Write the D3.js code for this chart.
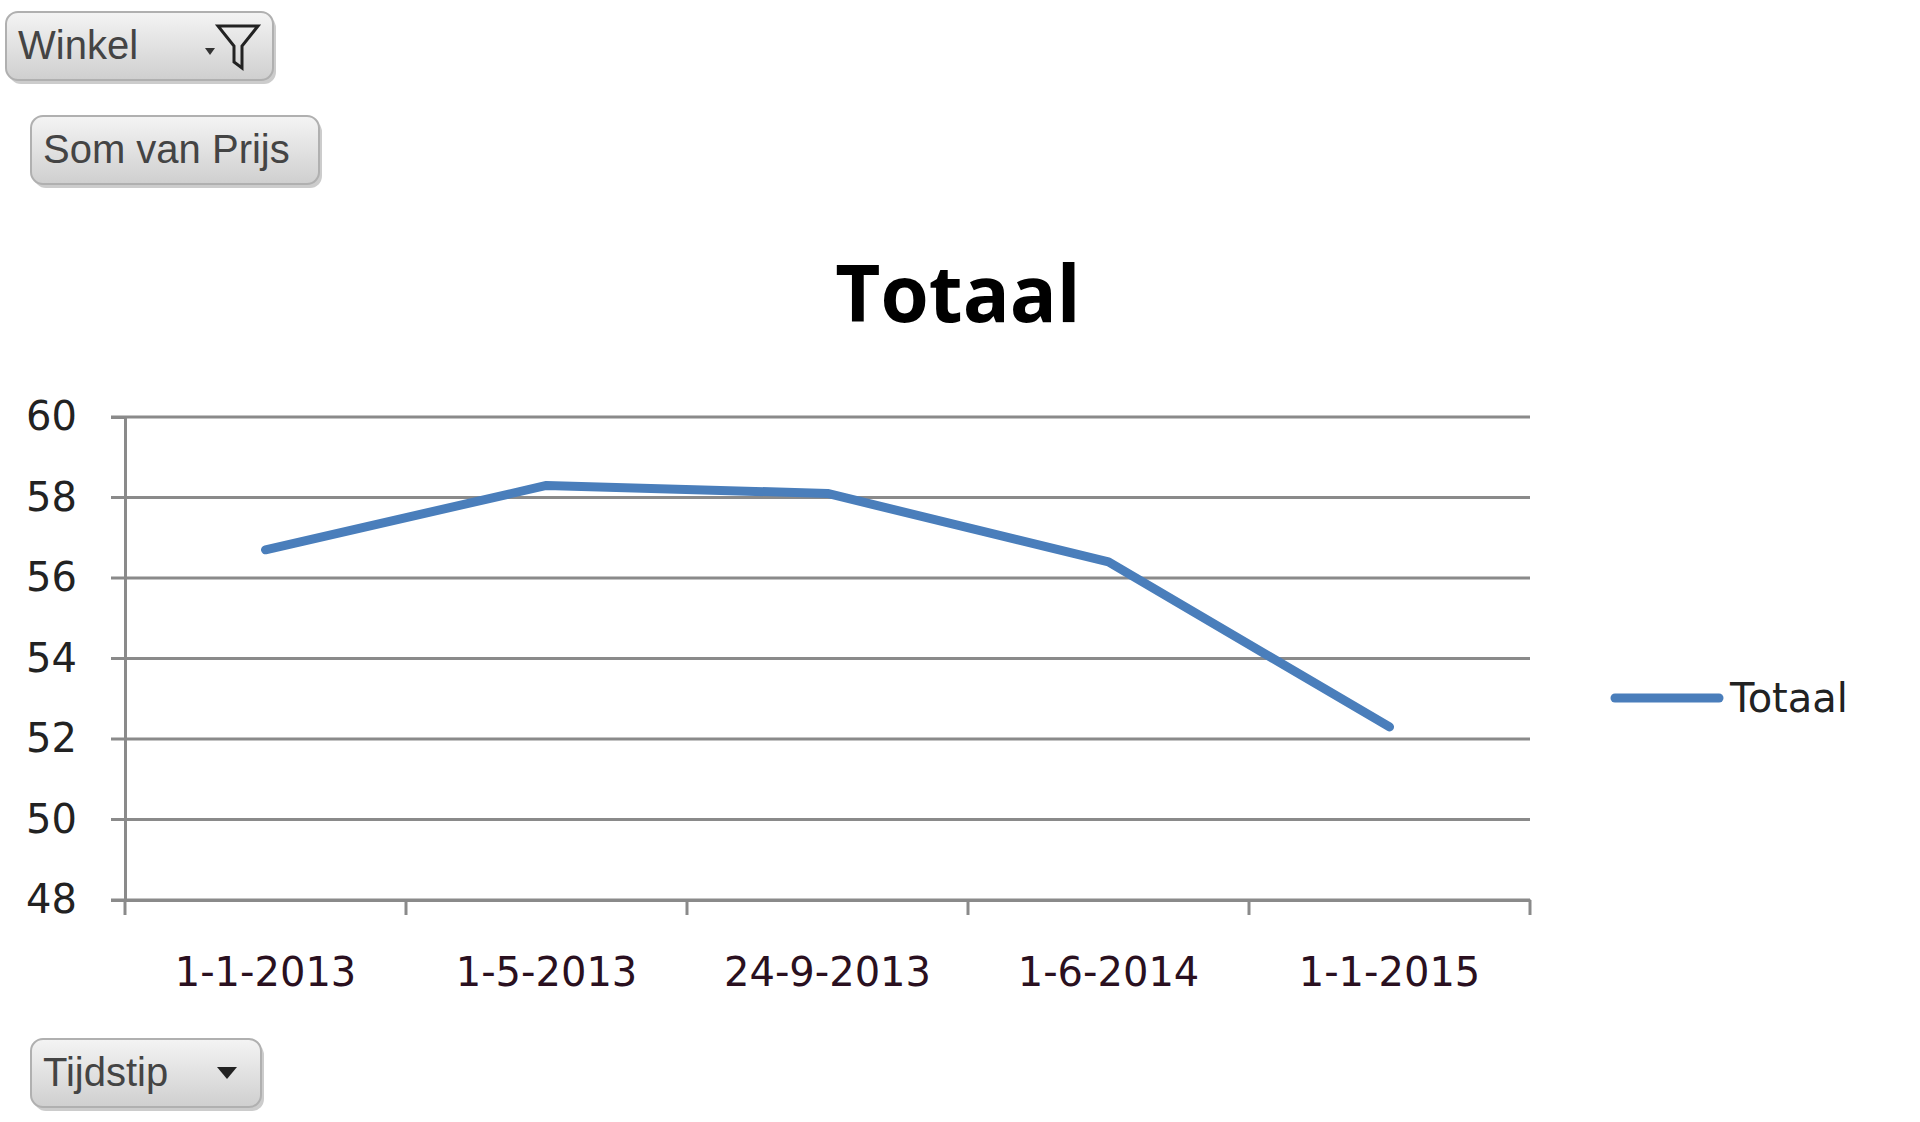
<!DOCTYPE html><html><head><meta charset="utf-8"><script src="https://d3js.org/d3.v7.min.js"></script>
<style>body{margin:0;background:#fff}</style></head><body><svg id="c" width="1920" height="1122"></svg>
<script>
const categories=["1-1-2013","1-5-2013","24-9-2013","1-6-2014","1-1-2015"];
const values=[56.7,58.3,58.1,56.4,52.3];
const yTicks=[48,50,52,54,56,58,60];
const svg=d3.select("#c");
const defs=svg.append("defs");
const g1=defs.append("linearGradient").attr("id","btn").attr("x1",0).attr("y1",0).attr("x2",0).attr("y2",1);
g1.append("stop").attr("offset","0").attr("stop-color","#f4f4f4");
g1.append("stop").attr("offset","1").attr("stop-color","#cfcfcf");
function button(x,y,w,h,label,icon){
  const g=svg.append("g");
  g.append("rect").attr("x",x+3).attr("y",y+4).attr("width",w).attr("height",h).attr("rx",12).attr("fill","#ccc");
  g.append("rect").attr("x",x).attr("y",y).attr("width",w).attr("height",h).attr("rx",12).attr("fill","url(#btn)").attr("stroke","#b0b0b0").attr("stroke-width",2);
  g.append("text").attr("x",x+12).attr("y",y+h/2+13).attr("font-family","Liberation Sans Narrow, Liberation Sans, sans-serif").attr("font-size",40).attr("fill","#444").text(label);
  if(icon==="filter"){
    g.append("path").attr("d",`M${x+w-68},${y+h/2+2} l10,0 l-5,7 z`).attr("fill","#333");
    g.append("path").attr("d",`M${x+w-55},${y+14} l40,0 l-16,20 l0,22 l-8,-6 l0,-16 z`).attr("fill","none").attr("stroke","#222").attr("stroke-width",3);
  } else if(icon==="drop"){
    g.append("path").attr("d",`M${x+w-44},${y+h/2-6} l20,0 l-10,12 z`).attr("fill","#222");
  }
}
button(6,12,267,68,"Winkel","filter");
button(31,116,288,68,"Som van Prijs");
button(31,1039,230,68,"Tijdstip","drop");

const L=125,R=1530,T=417,B=900;
const x=d3.scaleBand().domain(categories).range([L,R]);
const y=d3.scaleLinear().domain([48,60]).range([B,T]);
svg.append("text").attr("x",958).attr("y",322).attr("text-anchor","middle").attr("font-family","Open Sans, sans-serif").attr("font-weight","bold").attr("font-size",78).attr("fill","#000").text("Totaal");
svg.append("g").selectAll("line").data(yTicks).join("line").attr("x1",L-14).attr("x2",R).attr("y1",d=>y(d)).attr("y2",d=>y(d)).attr("stroke","#8a8a8a").attr("stroke-width",3);
const ya=svg.append("g").attr("transform",`translate(${L},0)`).call(d3.axisLeft(y).tickValues(yTicks).tickSize(14).tickPadding(34));
ya.select(".domain").attr("stroke","#8a8a8a").attr("stroke-width",3);
ya.selectAll(".tick line").remove();
ya.selectAll("text").attr("font-family","DejaVu Sans, sans-serif").attr("font-size",40).attr("fill","#222");
const xa=svg.append("g").attr("transform",`translate(0,${B})`).call(d3.axisBottom(x).tickSize(0).tickPadding(58));
xa.select(".domain").attr("stroke","#8a8a8a").attr("stroke-width",3);
xa.selectAll("text").attr("font-family","DejaVu Sans, sans-serif").attr("font-size",40).attr("fill","#2a1020");
const edges=categories.map(c=>x(c)).concat([R]);
svg.append("g").selectAll("line").data(edges).join("line").attr("x1",d=>d).attr("x2",d=>d).attr("y1",B).attr("y2",B+15).attr("stroke","#8a8a8a").attr("stroke-width",3);
svg.append("path").datum(values).attr("fill","none").attr("stroke","#4a7ebb").attr("stroke-width",9).attr("stroke-linecap","round").attr("stroke-linejoin","round")
  .attr("d",d3.line().x((d,i)=>x(categories[i])+x.bandwidth()/2).y(d=>y(d)));
svg.append("line").attr("x1",1615).attr("x2",1719).attr("y1",698).attr("y2",698).attr("stroke","#4a7ebb").attr("stroke-width",9).attr("stroke-linecap","round");
svg.append("text").attr("x",1730).attr("y",712).attr("font-family","DejaVu Sans, sans-serif").attr("font-size",40).attr("fill","#222").text("Totaal");
</script></body></html>
